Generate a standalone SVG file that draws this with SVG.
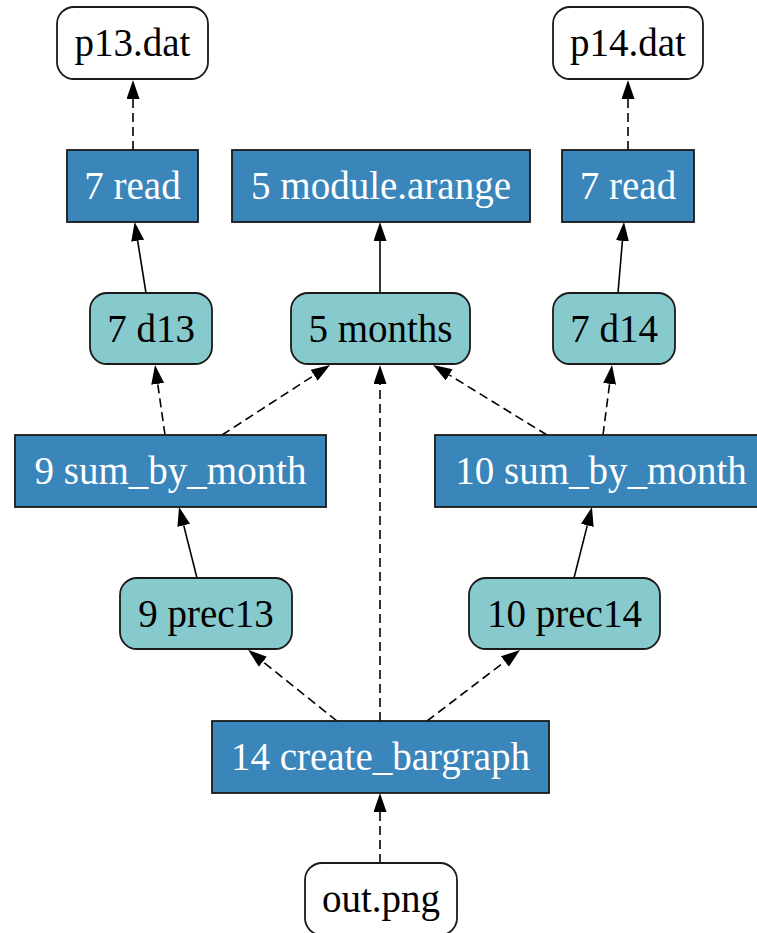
<svg xmlns="http://www.w3.org/2000/svg" width="757" height="933" viewBox="0 0 757 933">
<style>
  .blue { fill: #3a85ba; stroke: #1a1a1a; stroke-width: 1.8; }
  .teal { fill: #86cace; stroke: #1a1a1a; stroke-width: 1.8; }
  .file { fill: #ffffff; stroke: #1a1a1a; stroke-width: 1.8; }
  text { font-family: "Liberation Serif", "Times New Roman", serif; font-size: 39px; text-anchor: middle; }
  .wt { fill: #ffffff; }
  .bk { fill: #000000; }
  .e { stroke: #000000; stroke-width: 1.6; fill: none; marker-end: url(#arr); }
  .d { stroke-dasharray: 9,5; }
</style>
<defs>
  <marker id="arr" markerUnits="userSpaceOnUse" markerWidth="20" markerHeight="14" refX="0" refY="6.5" orient="auto">
    <path d="M0,0 L19,6.5 L0,13 z" fill="#000000"/>
  </marker>
</defs>
<rect width="757" height="933" fill="#ffffff"/>
<g id="connectors">
  <line class="e d" x1="133" y1="150" x2="133" y2="99"/>
  <line class="e" x1="146" y1="293" x2="137.65" y2="240.8"/>
  <line class="e" x1="380" y1="293" x2="380" y2="241"/>
  <line class="e" x1="618" y1="293" x2="622.4" y2="240.9"/>
  <line class="e d" x1="628" y1="150" x2="628" y2="99"/>
  <line class="e d" x1="165" y1="435" x2="157.7" y2="383.8"/>
  <line class="e d" x1="222" y1="435" x2="314.1" y2="375.3"/>
  <line class="e d" x1="380" y1="721" x2="380" y2="384"/>
  <line class="e d" x1="547" y1="435" x2="449.2" y2="374.9"/>
  <line class="e d" x1="603" y1="435" x2="609.6" y2="383.8"/>
  <line class="e" x1="197" y1="578" x2="183.7" y2="525.4"/>
  <line class="e" x1="574" y1="578" x2="587.3" y2="525.4"/>
  <line class="e d" x1="337" y1="721" x2="262.9" y2="661.7"/>
  <line class="e d" x1="427" y1="721" x2="504.9" y2="661.5"/>
  <line class="e d" x1="380" y1="863" x2="380" y2="812"/>
</g>
<g id="p13dat"><rect class="file" x="57" y="7" width="151" height="72" rx="17"/><text class="bk" x="132.5" y="56">p13.dat</text></g>
<g id="p14dat"><rect class="file" x="553" y="7" width="150" height="72" rx="17"/><text class="bk" x="628" y="56">p14.dat</text></g>
<g id="read13"><rect class="blue" x="67" y="150" width="131" height="72"/><text class="wt" x="132.5" y="199">7 read</text></g>
<g id="arange"><rect class="blue" x="232" y="150" width="298" height="72"/><text class="wt" x="381" y="199">5 module.arange</text></g>
<g id="read14"><rect class="blue" x="562" y="150" width="132" height="72"/><text class="wt" x="628" y="199">7 read</text></g>
<g id="d13"><rect class="teal" x="90" y="293" width="122" height="71" rx="17"/><text class="bk" x="151" y="341.5">7 d13</text></g>
<g id="months"><rect class="teal" x="291" y="293" width="179" height="71" rx="17"/><text class="bk" x="380.5" y="341.5">5 months</text></g>
<g id="d14"><rect class="teal" x="553" y="293" width="122" height="71" rx="17"/><text class="bk" x="614" y="341.5">7 d14</text></g>
<g id="sum9"><rect class="blue" x="15" y="435" width="311" height="72"/><text class="wt" x="170.5" y="484">9 sum_by_month</text></g>
<g id="sum10"><rect class="blue" x="435" y="435" width="332" height="72"/><text class="wt" x="601" y="484">10 sum_by_month</text></g>
<g id="prec13"><rect class="teal" x="120" y="578" width="172" height="71" rx="17"/><text class="bk" x="206" y="626.5">9 prec13</text></g>
<g id="prec14"><rect class="teal" x="469" y="578" width="191" height="71" rx="17"/><text class="bk" x="564.5" y="626.5">10 prec14</text></g>
<g id="bargraph"><rect class="blue" x="212" y="721" width="337" height="72"/><text class="wt" x="380.5" y="770">14 create_bargraph</text></g>
<g id="outpng"><rect class="file" x="305" y="863" width="152" height="72" rx="17"/><text class="bk" x="381" y="912">out.png</text></g>
</svg>
